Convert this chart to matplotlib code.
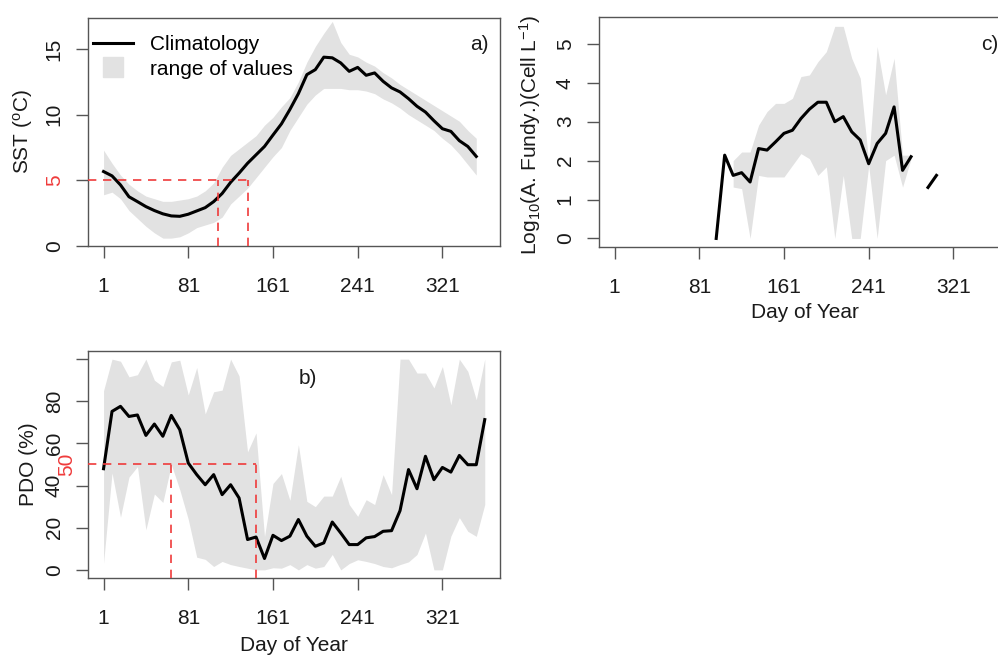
import numpy as np
import matplotlib
matplotlib.use('Agg')
import matplotlib.pyplot as plt
from matplotlib.lines import Line2D
from matplotlib.transforms import blended_transform_factory

plt.rcParams['font.family'] = ['Liberation Sans', 'DejaVu Sans']
plt.rcParams['mathtext.fontset'] = 'custom'
plt.rcParams['mathtext.rm'] = 'Liberation Sans'
plt.rcParams['mathtext.it'] = 'Liberation Sans:italic'
plt.rcParams['font.size'] = 15

# --- data (8-day composites, day of year) ---
sst_days = np.arange(1, 354, 8)
sst_clim = [5.67, 5.34, 4.65, 3.75, 3.38, 3.0, 2.7, 2.45, 2.29, 2.26,
            2.42, 2.67, 2.92, 3.38, 4.0, 4.85, 5.55, 6.3, 6.94, 7.58,
            8.45, 9.3, 10.4, 11.6, 13.05, 13.43, 14.38, 14.33, 13.94, 13.3,
            13.6, 13.0, 13.18, 12.54, 12.04, 11.73, 11.22, 10.64, 10.2, 9.54,
            8.93, 8.73, 8.02, 7.58, 6.82]
sst_upper = [7.3, 6.3, 5.4, 4.7, 4.2, 3.8, 3.6, 3.4, 3.4, 3.5,
             3.6, 3.8, 4.2, 4.8, 6.0, 6.9, 7.4, 7.9, 8.4, 9.2,
             9.8, 10.6, 11.3, 12.5, 14.0, 15.2, 16.2, 17.1, 15.5, 14.6,
             14.4, 14.0, 13.7, 13.2, 12.8, 12.3, 11.9, 11.5, 11.1, 10.7,
             10.3, 9.9, 9.5, 8.8, 8.2]
sst_lower = [3.9, 4.1, 3.6, 2.7, 2.1, 1.5, 1.0, 0.6, 0.6, 0.7,
             1.0, 1.4, 1.6, 1.8, 2.2, 3.2, 3.8, 4.4, 5.2, 6.0,
             6.8, 7.5, 8.8, 9.8, 10.8, 11.5, 12.0, 12.0, 12.0, 11.9,
             11.9, 11.8, 11.6, 11.2, 10.9, 10.5, 10.0, 9.6, 9.2, 8.8,
             8.2, 7.7, 7.0, 6.2, 5.4]

pdo_days = np.arange(1, 362, 8)
pdo_clim = [48.0, 75.2, 77.6, 72.8, 73.5, 63.8, 69.2, 63.4, 73.3, 66.5,
            50.7, 45.2, 40.4, 45.2, 35.7, 40.4, 34.1, 14.4, 15.6, 5.4,
            16.4, 13.9, 16.0, 23.9, 16.0, 11.2, 12.8, 22.7, 17.5, 12.0,
            12.0, 15.2, 15.8, 18.3, 18.6, 28.1, 47.6, 38.5, 53.9, 42.8,
            48.6, 46.4, 54.3, 49.9, 49.9, 71.3]
pdo_upper = [85, 100, 99, 91.6, 92.6, 100, 90, 87, 98.7, 99.5,
             83, 96, 74, 84.5, 85.3, 100, 92, 56, 65, 15.8,
             41, 45.7, 33, 59.4, 32.5, 30, 35, 35, 44.4, 31,
             25.4, 33.3, 31, 45.2, 35.7, 100, 100, 93.4, 93.4, 86.3,
             96.5, 78.3, 100, 94.2, 80.7, 100]
pdo_lower = [3.2, 46, 25, 44, 49, 19, 36, 32, 50, 38,
             24, 6, 5, 1.6, 4, 2.5, 1.6, 0.8, 0, 0,
             1, 0.8, 2.5, 0, 2.5, 0.8, 1.6, 7.3, 0, 3,
             4.8, 4, 3, 1.6, 1, 2.5, 3.8, 7.3, 17.5, 0,
             0, 16, 24.8, 18.3, 15.9, 31]

afu_days = np.arange(97, 306, 8)
afu_clim = [0.0, 2.14, 1.62, 1.69, 1.45, 2.31, 2.27, 2.48, 2.7, 2.78,
            3.08, 3.32, 3.5, 3.5, 3.0, 3.13, 2.74, 2.53, 1.92, 2.44,
            2.7, 3.38, 1.75, 2.1, np.nan, 1.31, 1.62]
afu_band_days = np.arange(113, 282, 8)
afu_upper = [2.0, 2.22, 2.22, 2.91, 3.26, 3.47, 3.47, 3.6, 4.16, 4.2,
             4.54, 4.8, 5.45, 5.45, 4.63, 4.12, 1.97, 4.93, 3.69, 4.63,
             2.14, 2.14]
afu_lower = [1.32, 1.28, 0.0, 1.62, 1.58, 1.58, 1.58, 1.88, 2.18, 2.05,
             1.62, 1.84, 0.0, 1.62, 0.0, 0.0, 1.87, 0.0, 2.0, 2.14,
             1.32, 2.05]

day_ticks = [1, 81, 161, 241, 321]
sst_thresh, sst_cross_days = 5, [109, 137]
pdo_thresh, pdo_cross_days = 50, [65, 145]

# --- style ---
BAND = '#e2e2e2'
RED = '#ef3b3b'
AXC = '#555555'
TXT = '#1a1a1a'
XLIM = (-13.4, 375.4)
W, H = 998, 655


def px_box(left, top, right, bottom):
    return [left / W, 1 - bottom / H, (right - left) / W, (bottom - top) / H]


def style_axes(ax, yticks, ylabels):
    for sp in ax.spines.values():
        sp.set_color(AXC)
        sp.set_linewidth(1.0)
    ax.set_xlim(*XLIM)
    ax.set_xticks(day_ticks)
    ax.set_xticklabels([str(d) for d in day_ticks])
    ax.set_yticks(yticks)
    ax.set_yticklabels(ylabels, rotation=90, va='center')
    ax.tick_params(axis='both', direction='out', length=8.6, width=1.0,
                   color=AXC, labelcolor=TXT, labelsize=15)
    ax.tick_params(axis='x', pad=13.5)
    ax.tick_params(axis='y', pad=9)


def red_dashes(ax, thresh, days, ybottom):
    ax.hlines(thresh, XLIM[0], max(days), color=RED, lw=1.2,
              linestyle=(0, (5, 4)), zorder=4)
    ax.vlines(days, ybottom, thresh, color=RED, lw=1.2,
              linestyle=(0, (5, 4)), zorder=4)


fig = plt.figure(figsize=(W / 100, H / 100), dpi=100)

# a) SST
ax_a = fig.add_axes(px_box(88.3, 17.5, 500, 246))
ax_a.fill_between(sst_days, sst_lower, sst_upper, color=BAND, lw=0)
ax_a.plot(sst_days, sst_clim, color='black', lw=2.2, zorder=3)
ax_a.set_ylim(0, 17.4)
style_axes(ax_a, [0, 5, 10, 15], ['0', '5', '10', '15'])
ax_a.get_yticklabels()[1].set_color(RED)
red_dashes(ax_a, sst_thresh, sst_cross_days, 0)
ax_a.set_ylabel(r'SST ($^{\mathregular{o}}$C)', fontsize=15, color=TXT)
ax_a.yaxis.set_label_coords(-0.13, 0.5)
ax_a.text(0.951, 0.88, 'a)', transform=ax_a.transAxes, ha='center',
          va='center', fontsize=15, color=TXT)
handles = [Line2D([], [], color='black', lw=2.2),
           Line2D([], [], marker='s', ms=14.5, mfc=BAND, mec=BAND, ls='none')]
ax_a.legend(handles, ['Climatology', 'range of values'], loc='upper left',
            bbox_to_anchor=(0.0114, 0.922), frameon=False, borderpad=0,
            borderaxespad=0, handlelength=1.92, handletextpad=0.84,
            labelspacing=0.25, fontsize=15)

# b) PDO
ax_b = fig.add_axes(px_box(88.3, 350.7, 500, 578.3))
ax_b.fill_between(pdo_days, pdo_lower, pdo_upper, color=BAND, lw=0)
ax_b.plot(pdo_days, pdo_clim, color='black', lw=2.2, zorder=3)
ax_b.set_ylim(-4, 104)
style_axes(ax_b, [0, 20, 40, 60, 80, 100], ['0', '20', '40', '60', '80', ''])
red_dashes(ax_b, pdo_thresh, pdo_cross_days, -4)
trans_b = blended_transform_factory(ax_b.transAxes, ax_b.transData)
ax_b.text(-0.03, pdo_thresh, '50', transform=trans_b, rotation=90,
          ha='right', va='center', color=RED, fontsize=15)
ax_b.set_ylabel('PDO (%)', fontsize=15, color=TXT)
ax_b.yaxis.set_label_coords(-0.123, 0.5)
ax_b.set_xlabel('Day of Year', fontsize=15, color=TXT)
ax_b.xaxis.set_label_coords(0.5, -0.254)
ax_b.text(194, 90.8, 'b)', ha='center', va='center', fontsize=15, color=TXT)

# c) A. fundyense
ax_c = fig.add_axes(px_box(599.3, 17, 1011, 247))
ax_c.fill_between(afu_band_days, afu_lower, afu_upper, color=BAND, lw=0)
ax_c.plot(afu_days, afu_clim, color='black', lw=2.2, zorder=3)
ax_c.set_ylim(-0.22, 5.69)
style_axes(ax_c, [0, 1, 2, 3, 4, 5], ['0', '1', '2', '3', '4', '5'])
ax_c.set_ylabel(r'Log$_{\mathregular{10}}$(A. Fundy.)(Cell L$^{\mathregular{-1}}$)',
                fontsize=15, color=TXT)
ax_c.yaxis.set_label_coords(-0.137, 0.49)
ax_c.set_xlabel('Day of Year', fontsize=15, color=TXT)
ax_c.xaxis.set_label_coords(0.5, -0.243)
ax_c.text(355.6, 4.98, 'c)', ha='center', va='center', fontsize=15, color=TXT)

fig.savefig('out.png', dpi=100)
